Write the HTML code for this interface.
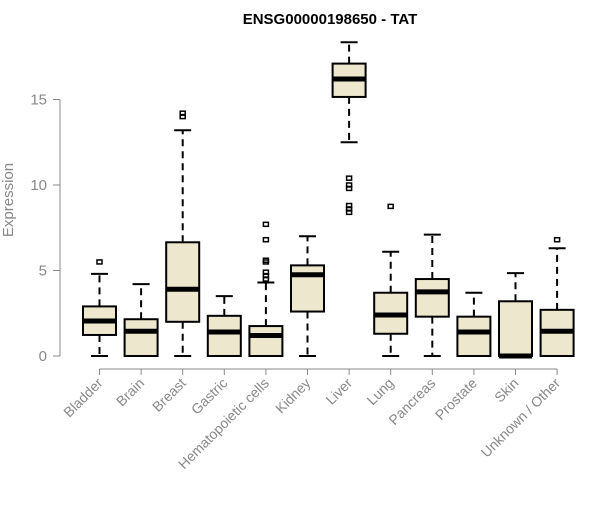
<!DOCTYPE html>
<html><head><meta charset="utf-8"><style>
body{margin:0;background:#fff}
svg text{font-family:"Liberation Sans",Arial,sans-serif}
</style></head><body>
<svg id="chart" width="600" height="500" xmlns="http://www.w3.org/2000/svg">
<text x="330" y="24" text-anchor="middle" font-size="15" font-weight="bold">ENSG00000198650 - TAT</text>
<text transform="translate(13,200) rotate(-90)" text-anchor="middle" font-size="15" fill="#888">Expression</text>
<g id="axes"></g><g id="marks"></g>
</svg>
<script>
const categories=["Bladder","Brain","Breast","Gastric","Hematopoietic cells","Kidney","Liver","Lung","Pancreas","Prostate","Skin","Unknown / Other"];
const lowerWhisker=[0,0,0,0,0,0,12.5,0,0,0,0,0];
const q1=[1.23,0,2.0,0,0,2.6,15.15,1.3,2.3,0,0,0];
const medians=[2.05,1.45,3.9,1.4,1.2,4.75,16.2,2.4,3.75,1.4,0,1.45];
const q3=[2.9,2.15,6.65,2.35,1.75,5.3,17.1,3.7,4.5,2.3,3.2,2.7];
const upperWhisker=[4.8,4.2,13.2,3.5,4.3,7.0,18.35,6.1,7.1,3.7,4.85,6.3];
const outliers=[[5.5],[],[14.0,14.2],[],[4.5,4.7,4.9,5.5,5.6,6.8,7.7],[],[8.4,8.6,8.8,9.8,10.0,10.4],[8.75],[],[],[],[6.8]];
const yTicks=[0,5,10,15];
const NS="http://www.w3.org/2000/svg";
const y=v=>356-17.1*v;
const x=i=>99.5+i*41.6;
function mk(tag,attrs,parent){const e=document.createElementNS(NS,tag);for(const k in attrs)e.setAttribute(k,attrs[k]);parent.appendChild(e);return e;}
const ax=document.getElementById('axes'),mg=document.getElementById('marks');
let l=mk('line',{x1:60,x2:60,y1:y(0),y2:y(15),stroke:'#888'},ax);


yTicks.forEach(t=>{
 const tk=mk('line',{x1:53,x2:60,y1:y(t),y2:y(t),stroke:'#888'},ax);
 
 
 const tx=mk('text',{x:47,y:y(t)+5,'text-anchor':'end','font-size':15,fill:'#888'},ax);
 tx.textContent=t;
 
 
});
l=mk('line',{x1:x(0),x2:x(11),y1:369,y2:369,stroke:'#888'},ax);


categories.forEach((c,i)=>{
 const cx=x(i);
 const tk=mk('line',{x1:cx,x2:cx,y1:369,y2:375,stroke:'#888'},ax);
 
 
 const tx=mk('text',{transform:`translate(${cx+4},${384}) rotate(-45)`,'text-anchor':'end','font-size':14,fill:'#888'},ax);
 tx.textContent=c;
 
 
 const g=mk('g',{},mg);
 
 
 mk('line',{x1:cx,x2:cx,y1:y(q3[i]),y2:y(upperWhisker[i]),stroke:'#000','stroke-width':2,'stroke-dasharray':'7,5'},g);
 mk('line',{x1:cx,x2:cx,y1:y(q1[i]),y2:y(lowerWhisker[i]),stroke:'#000','stroke-width':2,'stroke-dasharray':'7,5'},g);
 mk('line',{x1:cx-8.5,x2:cx+8.5,y1:y(upperWhisker[i]),y2:y(upperWhisker[i]),stroke:'#000','stroke-width':2},g);
 mk('line',{x1:cx-8.5,x2:cx+8.5,y1:y(lowerWhisker[i]),y2:y(lowerWhisker[i]),stroke:'#000','stroke-width':2},g);
 mk('rect',{x:cx-16.5,y:y(q3[i]),width:33,height:y(q1[i])-y(q3[i]),fill:'#ede7cd',stroke:'#000','stroke-width':2},g);
 mk('line',{x1:cx-16.5,x2:cx+16.5,y1:y(medians[i]),y2:y(medians[i]),stroke:'#000','stroke-width':5},g);
 outliers[i].forEach(o=>{
  const p=mk('rect',{x:cx-2.5,y:y(o)-2,width:5,height:4,fill:'none',stroke:'#000','stroke-width':1.5},g);
  
  
 });
});
</script>
</body></html>
